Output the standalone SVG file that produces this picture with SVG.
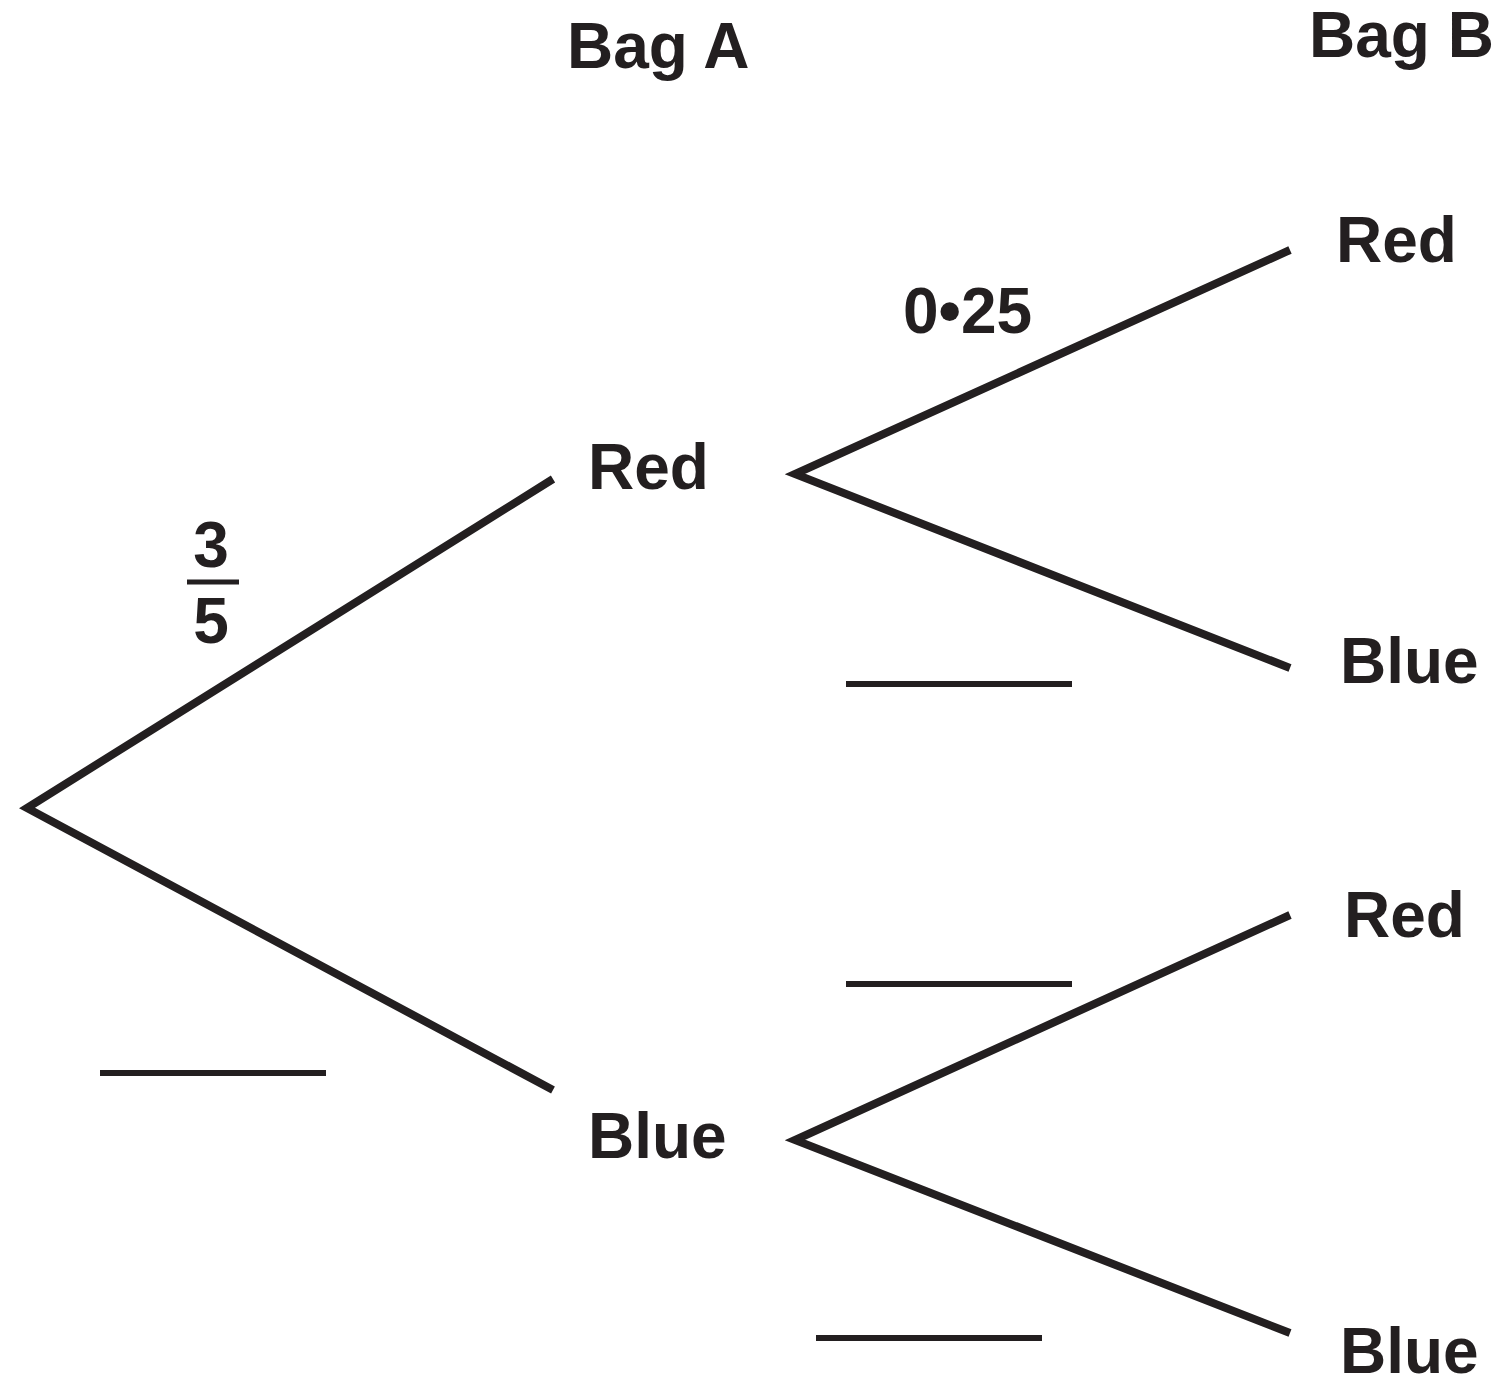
<svg xmlns="http://www.w3.org/2000/svg" width="1501" height="1385" viewBox="0 0 1501 1385">
<style>
.br{fill:none;stroke:#231f20;stroke-width:8;stroke-linejoin:miter;stroke-miterlimit:10}
.bl{stroke:#231f20;stroke-width:6}
text{font-family:"Liberation Sans",Arial,sans-serif;font-weight:bold;font-size:64px;fill:#231f20}
</style>
<rect width="1501" height="1385" fill="#fff"/>
<g id="connectors">
<polyline class="br" points="553,479 27,808 553,1090"/>
<polyline class="br" points="1290,250 795,474 1290,668"/>
<polyline class="br" points="1290,915 795,1140 1290,1333"/>
</g>
<g id="blanks">
<line class="bl" x1="846" y1="684" x2="1072" y2="684"/>
<line class="bl" x1="846" y1="984" x2="1072" y2="984"/>
<line class="bl" x1="100" y1="1073" x2="326" y2="1073"/>
<line class="bl" x1="816" y1="1338" x2="1042" y2="1338"/>
</g>
<g id="headers">
<text x="567" y="68">Bag A</text>
<text x="1309" y="57">Bag B</text>
</g>
<g id="nodeA-red"><text x="588" y="489">Red</text></g>
<g id="nodeA-blue"><text x="588" y="1158">Blue</text></g>
<g id="nodeB-red1"><text x="1336" y="262">Red</text></g>
<g id="nodeB-blue1"><text x="1340" y="683">Blue</text></g>
<g id="nodeB-red2"><text x="1344" y="937">Red</text></g>
<g id="nodeB-blue2"><text x="1340" y="1373">Blue</text></g>
<g id="prob-025"><text x="903" y="333">0•25</text></g>
<g id="prob-frac">
<text x="211" y="567" text-anchor="middle">3</text>
<line x1="187" y1="582" x2="239" y2="582" stroke="#231f20" stroke-width="5"/>
<text x="211" y="643" text-anchor="middle">5</text>
</g>
</svg>
